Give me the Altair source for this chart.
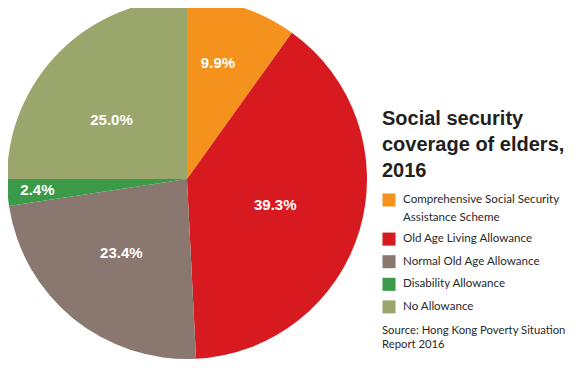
import altair as alt
import pandas as pd

categories = [
    "Comprehensive Social Security Assistance Scheme",
    "Old Age Living Allowance",
    "Normal Old Age Allowance",
    "Disability Allowance",
    "No Allowance",
]
shares = [9.9, 39.3, 23.4, 2.4, 25.0]
labels = ["9.9%", "39.3%", "23.4%", "2.4%", "25.0%"]
colors = ["#F5921E", "#D71920", "#8A7770", "#3A9A48", "#9BA66C"]
title_lines = ["Social security", "coverage of elders,", "2016"]
source_lines = ["Source: Hong Kong Poverty Situation", "Report 2016"]

df = pd.DataFrame({"cat": categories, "share": shares, "label": labels,
                   "idx": list(range(len(categories)))})

CX, CY, R = 179, 171, 180
color_scale = alt.Scale(domain=categories, range=colors)

base = alt.Chart(df)

pie = base.mark_arc(outerRadius=R, stroke=None).encode(
    x=alt.value(CX), y=alt.value(CY),
    theta=alt.Theta("share:Q", stack=True),
    color=alt.Color("cat:N", scale=color_scale, legend=None),
    order=alt.Order("idx:Q"),
)

pie_labels = base.transform_window(
    cum="sum(share)", sort=[alt.SortField("idx")]
).transform_joinaggregate(
    total="sum(share)"
).transform_calculate(
    da="datum.idx == 0 ? -0.05 : (datum.idx == 4 ? -0.12 : (datum.idx == 2 ? 0.04 : 0))",
    ang="(datum.cum - datum.share / 2) / datum.total * 2 * PI + datum.da",
    lr="datum.idx == 3 ? 150 : (datum.idx == 0 ? 120 : (datum.idx == 1 ? 92 : (datum.idx == 4 ? 96 : 99)))",
).mark_text(font="Liberation Sans", fontWeight="bold", fontSize=15,
            color="white", align="center", baseline="middle").encode(
    x=alt.value(CX), y=alt.value(CY),
    theta=alt.Theta("ang:Q", scale=None, stack=False),
    radius=alt.Radius("lr:Q", scale=None),
    text="label:N",
)

LX = 374
leg_y = "datum.idx == 0 ? 192 : 208.5 + datum.idx * 22.6"
swatches = base.transform_calculate(ly=leg_y).mark_square(size=170, opacity=1).encode(
    x=alt.value(LX + 7),
    y=alt.Y("ly:Q", scale=None),
    color=alt.Color("cat:N", scale=color_scale, legend=None),
)

leg_text = base.transform_calculate(
    ly=leg_y,
    txt="datum.idx == 0 ? ['Comprehensive Social Security', 'Assistance Scheme'] : datum.cat",
).mark_text(font="Lato", fontSize=11.6, color="#2A2A2A",
            align="left", baseline="middle", lineHeight=18).encode(
    x=alt.value(LX + 21),
    y=alt.Y("ly:Q", scale=None),
    text="txt:N",
)

title = alt.Chart(pd.DataFrame({"t": [title_lines]})).mark_text(
    font="Liberation Sans", fontWeight="bold", fontSize=20, color="#231F20",
    align="left", baseline="alphabetic", lineHeight=26,
).encode(x=alt.value(LX), y=alt.value(117), text="t")

source = alt.Chart(pd.DataFrame({"t": [source_lines]})).mark_text(
    font="Lato", fontSize=11.3, color="#2A2A2A",
    align="left", baseline="middle", lineHeight=14,
).encode(x=alt.value(LX), y=alt.value(323), text="t")

chart = alt.layer(pie, pie_labels, swatches, leg_text, title, source).properties(
    width=560, height=355, autosize=alt.AutoSizeParams(type="none"), padding=0,
).configure_view(stroke=None)

chart.save("out.html", embed_options={"renderer": "svg", "actions": False})
